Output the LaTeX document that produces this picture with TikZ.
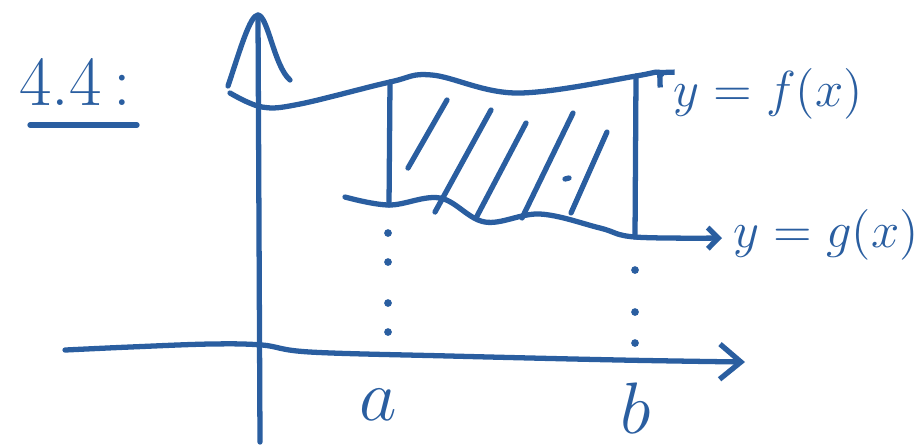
\documentclass[tikz,border=0pt]{standalone}
\usepackage{amsmath,amssymb}
\usepackage{xcolor}
\usepackage{tikz}
\usetikzlibrary{arrows.meta,positioning,calc}
\definecolor{ink}{RGB}{42,94,160}

\begin{document}
\begin{tikzpicture}[
    x=0.01cm, y=-0.01cm,
    pen/.style={draw=ink, line width=1.5pt, line cap=round, line join=round},
    axis/.style={pen, -{Straight Barb[length=6pt, width=10pt]}},
    graph/.style={pen, -{Straight Barb[length=3pt, width=6pt]}},
    dot/.style={fill=ink},
    label/.style={text=ink, inner sep=0pt, font=\fontsize{20}{22}\selectfont},
    eqn/.style={label, font=\fontsize{14}{16}\selectfont}
]
\useasboundingbox (0,0) rectangle (919,444);

% title
\node[label] (title) at (75,82) {4.4\,:};
\draw[pen] (30,125) -- (137,125);

% axes
\coordinate (yfoot) at (260,442);
\coordinate (ytop) at (258,15);
\draw[pen] (yfoot) -- (ytop);
\draw[pen] (228,86) .. controls (240,50) and (250,15) .. (ytop) .. controls (268,16) and (274,66) .. (290,80);
\draw[axis] plot[smooth, tension=0.6] coordinates {(65,350) (130,347) (210,344) (262,345) (310,352) (450,356) (620,360) (745,362)};

% region corners
\coordinate (fa) at (390,82);
\coordinate (fb) at (636,76);
\coordinate (ga) at (389,205);
\coordinate (gb) at (635,237);

% curves
\draw[graph] plot[smooth, tension=0.6] coordinates {(230,93) (262,107) (300,104) (fa) (432,75) (517,93) (fb) (657,70)};
\draw[graph] plot[smooth, tension=0.6] coordinates {(345,197) (ga) (440,198) (485,222) (540,214) (600,228) (gb) (722,238)};
\draw[pen] (fa) -- (ga);
\draw[pen] (fb) -- (gb);

% hatching
\foreach \xa/\ya/\xb/\yb in {408/168/447/100, 435/212/491/110, 476/218/526/123, 522/218/573/113, 571/213/607/132}
    \draw[pen] (\xa,\ya) -- (\xb,\yb);
\draw[pen] (565,179) -- (569,178);

% dotted drop lines
\foreach \y in {233,262,303,332}
    \fill[dot] (388,\y) circle[radius=1.1pt];
\foreach \y in {270,312,343}
    \fill[dot] (635,\y) circle[radius=1.1pt];

% labels
\node[eqn] (flabel) at (768,94) {$y = f(x)$};
\node[eqn] (glabel) at (826,235) {$y = g(x)$};
\node[label] (alabel) at (378,405) {$a$};
\node[label] (blabel) at (636,408) {$b$};
\end{tikzpicture}
\end{document}
